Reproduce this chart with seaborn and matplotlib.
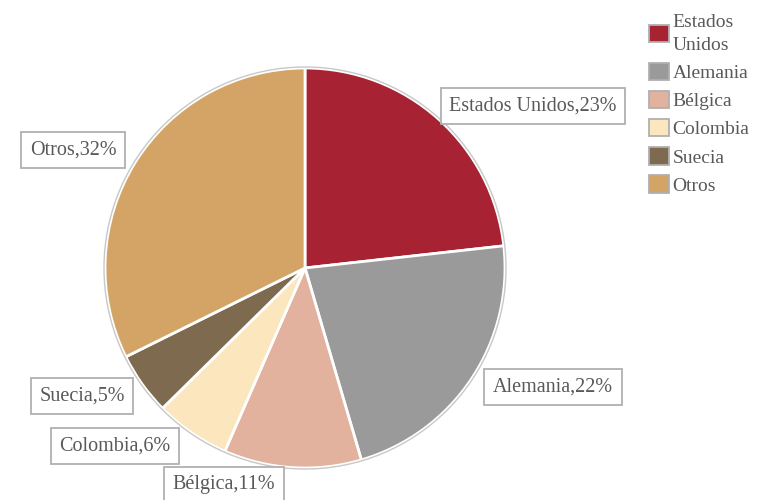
import seaborn as sns
import matplotlib.pyplot as plt
from matplotlib.patches import Patch

paises = ["Estados Unidos", "Alemania", "Bélgica", "Colombia", "Suecia", "Otros"]
porcentajes = [23, 22, 11, 6, 5, 32]
colores = ["#A72333", "#9A9A9A", "#E2B29E", "#FCE6BE", "#7E6B4F", "#D4A466"]

sns.set_theme(style="white")
plt.rcParams["font.family"] = ["Liberation Serif", "DejaVu Serif"]

fig = plt.figure(figsize=(7.66, 5), dpi=100)
ax = fig.add_axes([0, 0, 1, 1])

wedges, _ = ax.pie(porcentajes, colors=sns.color_palette(colores), startangle=90,
                   counterclock=False, center=(305, 232), radius=200,
                   wedgeprops={"edgecolor": "white", "linewidth": 2})
circle = plt.Circle((305, 232), 201, fill=False, edgecolor="#c8c8c8", linewidth=1)
ax.add_patch(circle)
ax.set_xlim(0, 766)
ax.set_ylim(0, 500)
ax.set_aspect("auto")
ax.axis("off")

# label box positions (pixels from left / bottom)
pos_etiquetas = [(533, 394), (553, 113), (224, 15), (115, 54), (82, 104), (73, 350)]
for nombre, pct, (x, y) in zip(paises, porcentajes, pos_etiquetas):
    ax.text(x, y, f"{nombre},{pct}%", ha="center", va="center", fontsize=14.5,
            color="#595959",
            bbox={"boxstyle": "square,pad=0.42", "facecolor": "white",
                  "edgecolor": "#b0b0b0", "linewidth": 1.3})

handles = [Patch(facecolor=c, edgecolor="#b0b0b0", linewidth=1.3) for c in colores]
nombres_leyenda = ["Estados\nUnidos"] + paises[1:]
leg = ax.legend(handles, nombres_leyenda, loc="upper left", bbox_to_anchor=(0.83, 1.0),
                frameon=False, fontsize=14, labelcolor="#595959", handlelength=1.0,
                handleheight=1.0, handletextpad=0.2, labelspacing=0.45, borderpad=0.2)
for t in leg.get_texts():
    t.set_linespacing(1.5)

fig.savefig("out.png", dpi=100)
